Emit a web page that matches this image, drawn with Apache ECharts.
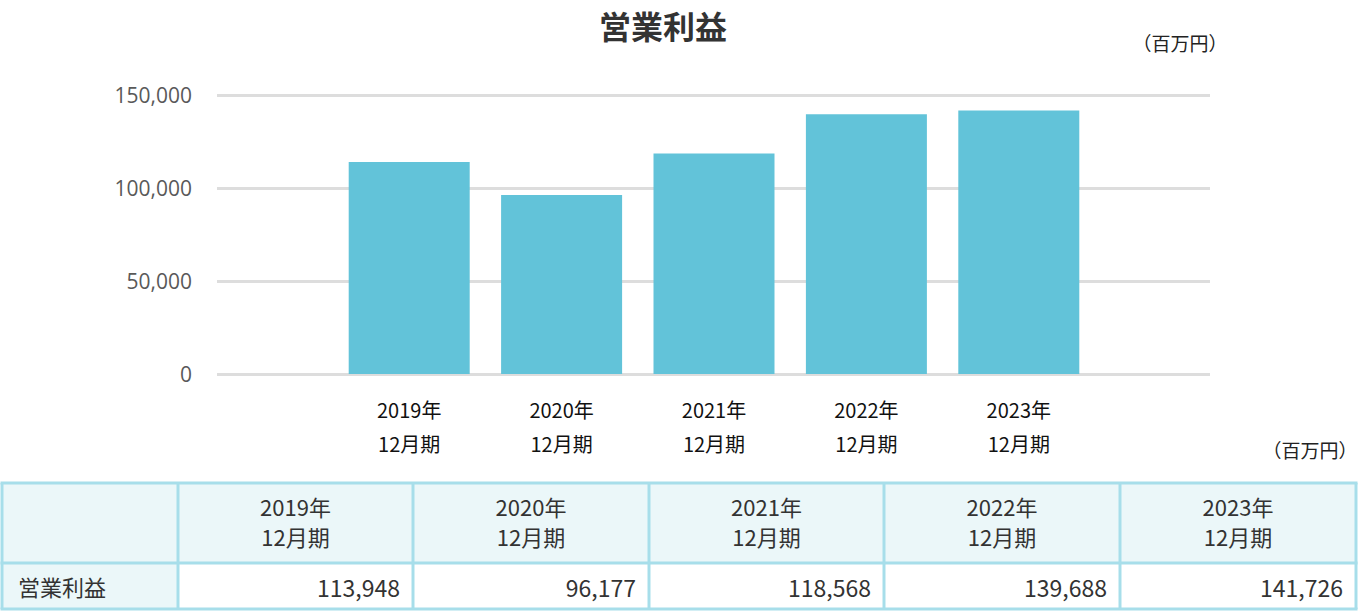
<!DOCTYPE html>
<html>
<head>
<meta charset="utf-8">
<script src="https://cdn.jsdelivr.net/npm/echarts@6/dist/echarts.min.js"></script>
<style>
html,body{margin:0;padding:0;background:#fff;}
#chart{width:1358px;height:612px;}
</style>
</head>
<body>
<div id="chart"></div>
<script>
const title = '営業利益';
const unitLabel = '（百万円）';
const categories = ['2019年\n12月期', '2020年\n12月期', '2021年\n12月期', '2022年\n12月期', '2023年\n12月期'];
const operatingProfit = [113948, 96177, 118568, 139688, 141726];
const yTicks = [0, 50000, 100000, 150000];
const rowLabel = '営業利益';

const chart = echarts.init(document.getElementById('chart'), null, {renderer: 'svg'});

const FONT_JP = '"Noto Sans CJK JP", "Noto Sans", sans-serif';
const FONT_NUM = '"Open Sans", "Noto Sans", sans-serif';
const BORDER = '#A7DEEA';
const HEAD_BG = '#EBF7F9';
const TEXT = '#333333';

// table layout
const colX = [2, 178, 413, 649, 884, 1120, 1356];
const rowY = [483, 563, 609];

function fmt(v){ return v.toLocaleString('en-US'); }

const graphics = [];
// backgrounds
graphics.push({type:'rect', shape:{x:colX[0], y:rowY[0], width:colX[6]-colX[0], height:rowY[1]-rowY[0]}, style:{fill:HEAD_BG}, silent:true});
graphics.push({type:'rect', shape:{x:colX[0], y:rowY[1], width:colX[1]-colX[0], height:rowY[2]-rowY[1]}, style:{fill:HEAD_BG}, silent:true});
graphics.push({type:'rect', shape:{x:colX[1], y:rowY[1], width:colX[6]-colX[1], height:rowY[2]-rowY[1]}, style:{fill:'#ffffff'}, silent:true});
// borders
rowY.forEach(y => graphics.push({type:'line', shape:{x1:colX[0]-1.5, y1:y, x2:colX[6]+1.5, y2:y}, style:{stroke:BORDER, lineWidth:3}, silent:true}));
colX.forEach(x => graphics.push({type:'line', shape:{x1:x, y1:rowY[0], x2:x, y2:rowY[2]}, style:{stroke:BORDER, lineWidth:3}, silent:true}));
// header texts
categories.forEach((c, i) => {
  const cx = (colX[i+1] + colX[i+2]) / 2;
  const lines = c.split('\n');
  lines.forEach((ln, j) => {
    graphics.push({type:'text', style:{text:ln, x:cx, y:506 + j*30, textAlign:'center', textVerticalAlign:'middle', fill:TEXT, fontSize:22, fontFamily:FONT_JP}, silent:true});
  });
});
// data row
graphics.push({type:'text', style:{text:rowLabel, x:18, y:586, textAlign:'left', textVerticalAlign:'middle', fill:TEXT, fontSize:22, fontFamily:FONT_JP}, silent:true});
operatingProfit.forEach((v, i) => {
  graphics.push({type:'text', style:{text:fmt(v), x:colX[i+2]-13, y:587, textAlign:'right', textVerticalAlign:'middle', fill:TEXT, fontSize:23, fontFamily:FONT_JP}, silent:true});
});
// unit labels
graphics.push({type:'text', style:{text:unitLabel, x:1180, y:42, textAlign:'center', textVerticalAlign:'middle', fill:'#222', fontSize:19, fontFamily:FONT_JP}, silent:true});
graphics.push({type:'text', style:{text:unitLabel, x:1310, y:449, textAlign:'center', textVerticalAlign:'middle', fill:'#222', fontSize:19, fontFamily:FONT_JP}, silent:true});

const yMax = yTicks[yTicks.length-1];
const yInterval = yTicks[1] - yTicks[0];

chart.setOption({
  animation: false,
  backgroundColor: '#ffffff',
  title: {
    text: title,
    left: 658, top: 1,
    textAlign: 'center',
    textStyle: {fontSize: 32, fontWeight: 'bold', color: '#333333', fontFamily: FONT_JP, lineHeight: 38}
  },
  grid: [
    {left: 217, right: 148, top: 95, bottom: 238},
    {left: 333, right: 263, top: 95, bottom: 238}
  ],
  xAxis: [
    {gridIndex: 0, type: 'category', data: categories, show: false},
    {gridIndex: 1, type: 'category', data: categories,
     axisLine: {show: false}, axisTick: {show: false},
     axisLabel: {color: '#111', fontSize: 20, fontFamily: FONT_JP, lineHeight: 34, margin: 18}}
  ],
  yAxis: [
    {gridIndex: 0, type: 'value', min: 0, max: yMax, interval: yInterval,
     axisLine: {show: false}, axisTick: {show: false},
     axisLabel: {color: '#595959', fontSize: 21, fontFamily: FONT_NUM, margin: 25,
                 formatter: v => fmt(v)},
     splitLine: {lineStyle: {color: '#DDDDDD', width: 3}}},
    {gridIndex: 1, type: 'value', min: 0, max: yMax, interval: yInterval, show: false,
     splitLine: {show: false}}
  ],
  series: [{
    type: 'bar',
    xAxisIndex: 1, yAxisIndex: 1,
    data: operatingProfit,
    barWidth: 121,
    itemStyle: {color: '#62C3D9'}
  }],
  graphic: graphics
});
</script>
</body>
</html>
